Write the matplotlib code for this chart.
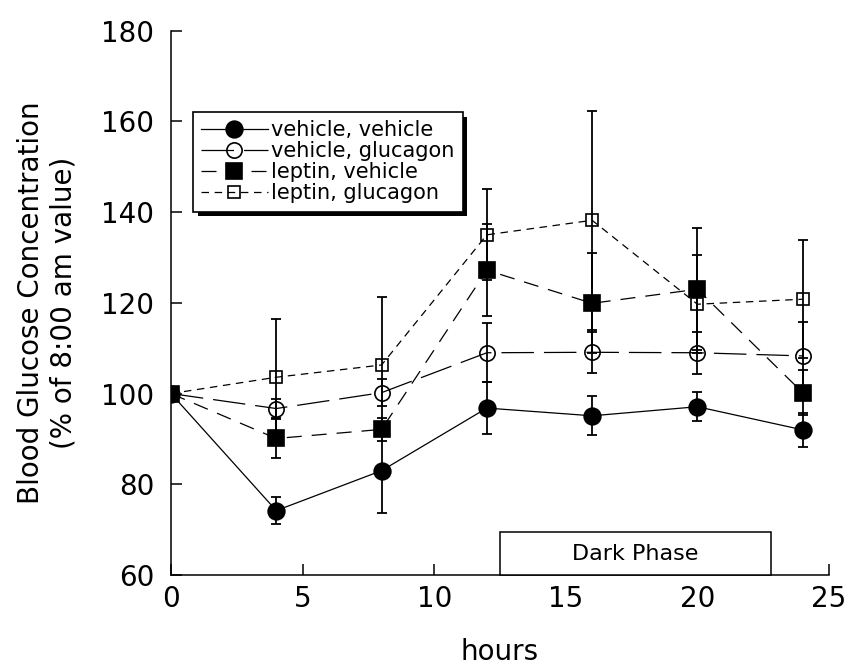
import matplotlib

matplotlib.use("Agg")
import matplotlib.pyplot as plt
import matplotlib.patheffects as pe
from matplotlib.patches import Rectangle

hours = [0, 4, 8, 12, 16, 20, 24]

veh_veh = [100, 74.2, 83.0, 96.8, 95.1, 97.1, 92.0]
veh_veh_sem = [0, 3.0, 9.3, 5.7, 4.3, 3.2, 3.7]
veh_glu = [100, 96.7, 100.2, 109.0, 109.1, 109.0, 108.3]
veh_glu_sem = [0, 2.0, 3.0, 6.5, 4.5, 4.6, 7.5]
lep_veh = [100, 90.1, 92.1, 127.2, 119.9, 123.0, 100.2]
lep_veh_sem = [0, 4.2, 2.6, 10.2, 11.0, 13.4, 4.9]
lep_glu = [100, 103.6, 106.3, 135.0, 138.2, 119.7, 120.8]
lep_glu_sem = [0, 12.9, 15.0, 10.0, 24.2, 10.8, 13.0]

labels = ["vehicle, vehicle", "vehicle, glucagon", "leptin, vehicle", "leptin, glucagon"]
dark_start, dark_end = 12.5, 22.8


def main():
    plt.rcParams["font.family"] = "DejaVu Sans"
    fig = plt.figure(figsize=(8.48, 6.70), dpi=100)
    ax = fig.add_axes([171 / 848, 1 - 575 / 670, 658 / 848, 544.3 / 670])

    series = [
        (veh_veh, veh_veh_sem, labels[0], "o", "black", 12, "-", None),
        (veh_glu, veh_glu_sem, labels[1], "o", "none", 11, "--", (26, 8)),
        (lep_glu, lep_glu_sem, labels[3], "s", "none", 8.5, "--", (6, 4.5)),
        (lep_veh, lep_veh_sem, labels[2], "s", "black", 11, "--", (12, 8)),
    ]
    handles = {}
    for i, (y, err, lab, mk, fc, ms, ls, dash) in enumerate(series):
        ax.errorbar(hours, y, yerr=err, fmt="none", ecolor="black",
                    elinewidth=1.3, capsize=3.8, capthick=1.3, zorder=2 + i)
        kw = dict(dashes=dash) if dash else {}
        (ln,) = ax.plot(hours, y, ls, color="black", lw=0.9, marker=mk,
                        ms=ms, mfc=fc, mec="black", mew=1.2, zorder=3 + i,
                        label=lab, **kw)
        handles[lab] = ln

    ax.set_xlim(0, 25)
    ax.set_ylim(60, 180)
    ax.set_xticks([0, 5, 10, 15, 20, 25])
    ax.set_yticks([60, 80, 100, 120, 140, 160, 180])
    ax.spines["top"].set_visible(False)
    ax.spines["right"].set_visible(False)
    for s in ("left", "bottom"):
        ax.spines[s].set_linewidth(1.1)
    ax.tick_params(direction="in", length=8, width=1.1, labelsize=20)
    ax.tick_params(axis="y", pad=12)
    ax.tick_params(axis="x", pad=7)

    # dark phase box sitting on the x axis
    ax.add_patch(Rectangle((dark_start, 60), dark_end - dark_start, 9.5,
                           facecolor="white", edgecolor="black", lw=1.1,
                           zorder=10, clip_on=False))
    ax.text((dark_start + dark_end) / 2, 64.6, "Dark Phase", ha="center",
            va="center", fontsize=16, zorder=11)

    leg = ax.legend([handles[l] for l in labels], labels, loc="upper left",
                    bbox_to_anchor=(0.033, 0.851), borderaxespad=0,
                    fontsize=15, frameon=True, fancybox=False,
                    edgecolor="black", framealpha=1, labelspacing=0.05,
                    borderpad=0.4, handlelength=3.2, handletextpad=0.15)
    leg.get_frame().set_linewidth(1.2)
    leg.get_frame().set_path_effects([
        pe.SimplePatchShadow(offset=(3.5, -3.5), shadow_rgbFace="black", alpha=1),
        pe.Normal(),
    ])
    leg.set_zorder(20)

    fig.text(47 / 848, 1 - 303 / 670,
             "Blood Glucose Concentration\n(% of 8:00 am value)",
             rotation=90, ha="center", va="center", fontsize=20,
             multialignment="center")
    fig.text(500 / 848, 1 - 652 / 670, "hours", ha="center", va="center",
             fontsize=20)

    fig.savefig("out.png", dpi=100)
    plt.close(fig)


if __name__ == "__main__":
    main()
